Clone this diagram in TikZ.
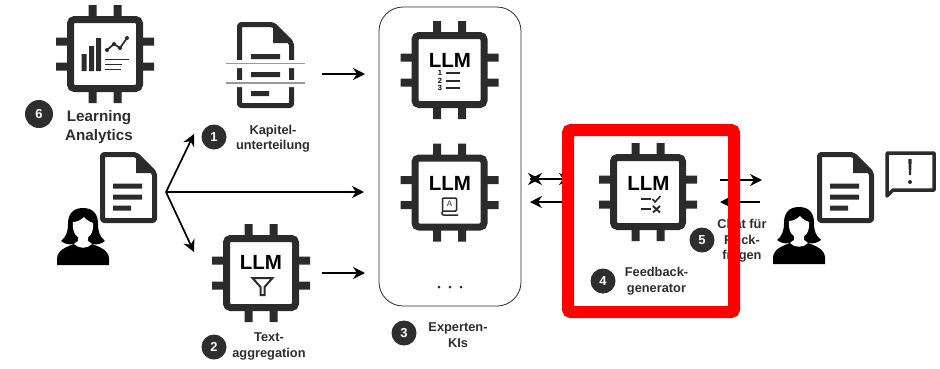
\documentclass[tikz,border=0pt]{standalone}
\usepackage{fontspec}
\setmainfont{Liberation Sans}
\usetikzlibrary{arrows.meta}
\definecolor{ink}{HTML}{2B2B2B}
\definecolor{lab}{HTML}{2E2E2E}
\definecolor{hl}{HTML}{FF0000}
\tikzset{
  x=1pt,y=-1pt,
  conn/.style={line width=1.7pt,black,-{Stealth[length=12pt,width=12pt,inset=4pt]}},
  badge/.style={circle,fill=lab,text=white,minimum size=25pt,inner sep=0pt,font=\bfseries\fontsize{13}{13}\selectfont},
  lbl/.style={align=center,text=lab,inner sep=0pt,font=\bfseries\fontsize{12.8}{15.5}\selectfont},
  lblbig/.style={align=center,text=lab,inner sep=0pt,font=\bfseries\fontsize{15.2}{19}\selectfont},
  llm/.style={inner sep=0pt,text=black,font=\bfseries\fontsize{20.5}{20}\selectfont},
  chipbox/.style={draw=ink,fill=white,line width=7pt,rounded corners=4pt},
  chip/.pic={
    \fill[ink] (-16.5,-49) rectangle (-8.5,49) (8.5,-49) rectangle (16.5,49)
               (-49,-16.5) rectangle (49,-8.5) (-49,8.5) rectangle (49,16.5);
    \draw[chipbox] (-34.5,-34.5) rectangle (34.5,34.5);
  },
  docicon/.pic={
    \draw[ink,fill=white,line width=5pt,rounded corners=2pt,line join=round]
      (2.5,2.5) -- (36,2.5) -- (54.5,21) -- (54.5,68.5) -- (2.5,68.5) -- cycle;
    \fill[ink] (36,2.5) -- (54.5,21) -- (36,21) -- cycle;
    \fill[ink] (13,31.5) rectangle (42,36.5) (13,42.5) rectangle (42,47.5) (13,53.5) rectangle (31,58.5);
  },
  person/.pic={
    \fill[black] (0,0) .. controls (-11,0) and (-15,7) .. (-15,16)
      .. controls (-15,24) and (-17,29) .. (-22,33)
      .. controls (-18,36) and (-14,37) .. (-10,36) -- (10,36)
      .. controls (14,37) and (18,36) .. (22,33)
      .. controls (17,29) and (15,24) .. (15,16)
      .. controls (15,7) and (11,0) .. (0,0) -- cycle;
    \fill[black] (-26,57) -- (-26,50) .. controls (-25,42) and (-17,39) .. (-9,36)
      -- (9,36) .. controls (17,39) and (25,42) .. (26,50) -- (26,57) -- cycle;
    \fill[white] (-10,14) .. controls (-6,14) and (-2,12) .. (1,9)
      .. controls (4,13) and (8,14) .. (10,15)
      .. controls (11,25) and (6,31) .. (0,31)
      .. controls (-6,31) and (-11,25) .. (-10,14) -- cycle;
    \fill[white] (-5,28) -- (5,28) -- (5,33) .. controls (8,35) and (8,35) .. (9,36)
      .. controls (4,41) and (-4,41) .. (-9,36) .. controls (-8,35) and (-8,35) .. (-5,33) -- cycle;
  }
}
\begin{document}
\begin{tikzpicture}
\useasboundingbox (0,0) rectangle (940,368);
\fill[white] (0,0) rectangle (940,368);

% experts container
\node[draw=ink,line width=0.8pt,rounded corners=24pt,minimum width=142pt,minimum height=299pt,inner sep=0pt] (experts) at (450,156.5) {};
\foreach \px in {439,450,461} \fill[ink] (\px,287) circle (1.5);

% chips
\pic at (105,54) {chip};
\pic at (261,273) {chip};
\pic at (449.5,70) {chip};
\pic at (449.5,192.5) {chip};
\pic at (648,192) {chip};

\node[llm] (llm2) at (261,262) {LLM};
\node[llm] (llm3a) at (450,60) {LLM};
\node[llm] (llm3b) at (450,183) {LLM};
\node[llm] (llm4) at (648.5,183) {LLM};

% analytics icon
\fill[ink] (81.5,54) rectangle (86.5,71) (89,46) rectangle (94,71) (96,38) rectangle (101,71);
\draw[ink,line width=1.7pt,line join=round] (107,50) -- (114,44) -- (120,48) -- (127,38);
\foreach \px/\py in {107/50,114/44,120/48,127/38} \fill[ink] (\px,\py) circle (2);
\draw[ink,line width=1.6pt] (105,59.5) -- (129,59.5) (105,64.5) -- (122,64.5) (105,69.5) -- (121,69.5);

% funnel
\draw[ink,line width=2pt,line join=miter] (252.5,278) -- (272.5,278) -- (264.5,287) -- (264.5,295) -- (260.5,295) -- (260.5,287) -- cycle;

% list icon
\foreach \py/\nn in {73/1,81/2,88/3}{
  \node[inner sep=0pt,font=\bfseries\fontsize{7.5}{7.5}\selectfont] at (440,\py) {\nn};
  \draw[ink,line width=1.4pt] (446,\py) -- (460,\py);
}

% book icon
\draw[ink,line width=1.5pt,rounded corners=1pt] (442.5,211) -- (442.5,198) -- (456.5,198) -- (456.5,211) -- (444.5,211) .. controls (441.5,211) and (441.5,215) .. (444.5,215) -- (458,215);
\node[inner sep=0pt,text=ink,font=\fontsize{8}{8}\selectfont] at (449.5,204) {A};

% checklist icon
\draw[ink,line width=1.5pt] (641,199) -- (651,199) (641,209) -- (651,209);
\draw[ink,line width=1.6pt] (652.5,199) -- (655,202) -- (660.5,196);
\draw[ink,line width=1.9pt] (653,206) -- (660,212.5) (660,206) -- (653,212.5);

% documents
\pic at (100,152) {docicon};
\pic at (817,152) {docicon};

% scanned document
\draw[ink,fill=white,line width=5pt,rounded corners=2pt,line join=round]
  (239.5,24.5) -- (273,24.5) -- (291.5,43) -- (291.5,105.5) -- (239.5,105.5) -- cycle;
\fill[ink] (273,24.5) -- (291.5,43) -- (273,43) -- cycle;
\fill[ink] (251,54) rectangle (280,59) (251,72) rectangle (280,77) (251,91) rectangle (269,96);
\fill[white] (226,60) rectangle (305,68) (226,80) rectangle (305,87);
\draw[gray!80,line width=1.2pt] (226,63.5) -- (305,63.5) (226,83) -- (305,83);

% people
\pic at (83,208) {person};
\pic at (799,207) {person};

% bubble
\draw[ink,line width=3.5pt,line join=round] (887,153) -- (934,153) -- (934,190) -- (893,190) -- (887,196) -- cycle;
\fill[ink] (908.3,159) -- (911.7,159) -- (911,175) -- (909,175) -- cycle;
\fill[ink] (910,182) circle (2);

% connectors
\coordinate (hub) at (166,192);
\coordinate (t1) at (194,134);
\coordinate (t2) at (194,252);
\coordinate (t3) at (364,192);
\draw[conn] (hub) -- (t1);
\draw[conn] (hub) -- (t2);
\draw[conn] (hub) -- (t3);
\coordinate (k1) at (322,74);
\coordinate (k2) at (365,74);
\coordinate (a1) at (322,273);
\coordinate (a2) at (365,273);
\draw[conn] (k1) -- (k2);
\draw[conn] (a1) -- (a2);
\coordinate (e1) at (530,179);
\coordinate (e1b) at (540,179);
\coordinate (g1) at (571,179);
\coordinate (g2) at (566,202);
\coordinate (e2) at (530,202);
\draw[conn] (e1) -- (g1);
\draw[conn] (e1) -- (e1b);
\draw[conn] (e1b) -- (e1);
\draw[conn] (g2) -- (e2);
\coordinate (c1) at (720,180);
\coordinate (u1) at (762,180);
\coordinate (u2) at (760,202);
\coordinate (c2) at (720,202);
\draw[conn] (c1) -- (u1);
\draw[conn] (u2) -- (c2);

% labels
\node[lblbig] (l6) at (99,127.5) {Learning\\Analytics};
\node[lbl] (l1) at (273,138.5) {Kapitel-\\unterteilung};
\node[lbl] (l2) at (269,346.5) {Text-\\aggregation};
\node[lbl] (l3) at (458,335) {Experten-\\KIs};
\node[lbl] (l4) at (656.5,281) {Feedback-\\generator};
\node[lbl] (l5) at (742,241) {Chat für\\Rück-\\fragen};

% badges
\node[badge,minimum size=28pt] (b6) at (39,114) {6};
\node[badge] (b1) at (214,137) {1};
\node[badge] (b2) at (214,347) {2};
\node[badge] (b3) at (404,333) {3};
\node[badge] (b4) at (603,281) {4};
\node[badge] (b5) at (702,240) {5};

% highlight
\node[draw=hl,line width=12pt,rounded corners=3pt,minimum width=166pt,minimum height=182pt,inner sep=0pt] (red) at (651,221) {};
\end{tikzpicture}
\end{document}
